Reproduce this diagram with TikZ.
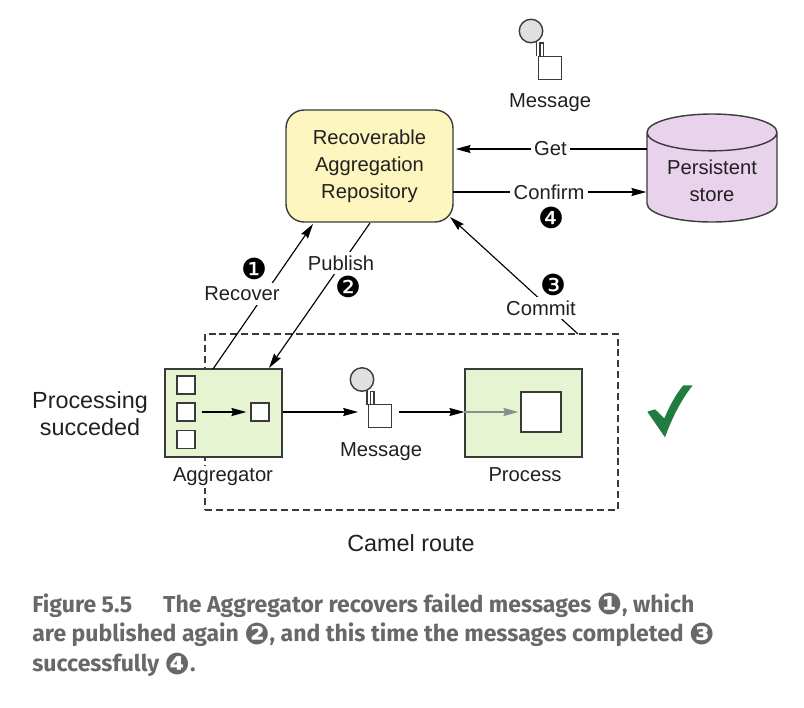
\documentclass[tikz,border=0pt]{standalone}
\usepackage{fontspec}
\setmainfont{Liberation Sans}
\newfontfamily\dingfont{DejaVu Sans}
\newfontfamily\captionfont{Fira Sans}
\usetikzlibrary{arrows.meta,shapes.geometric}
\definecolor{boxgreen}{HTML}{E6F4D2}
\definecolor{boxyellow}{HTML}{FDF7BF}
\definecolor{boxpurple}{HTML}{E8D2EC}
\definecolor{linegray}{HTML}{3A3A3A}
\definecolor{textgray}{HTML}{231F20}
\definecolor{captiongray}{HTML}{66686A}
\definecolor{tickgreen}{HTML}{217C3F}
\newcommand{\capnum}[1]{\smash{\raisebox{-1.3pt}{\dingfont\fontsize{17}{17}\selectfont #1}}}
\tikzset{
  flow/.style={line width=0.65pt,-{Stealth[length=8.5pt,width=4.6pt,inset=1pt]}},
  lab/.style={text=textgray,font=\fontsize{11.5}{15.4}\selectfont,align=center,inner sep=2pt},
  cutlab/.style={lab,fill=white},
  bigtext/.style={text=textgray,font=\fontsize{13.3}{15.4}\selectfont,align=center,inner sep=0pt},
  callout/.style={font=\dingfont\fontsize{16.5}{17}\selectfont,inner sep=0pt},
  greenbox/.style={draw=linegray,line width=0.8pt,fill=boxgreen,minimum width=2.34cm,minimum height=1.76cm},
  tinybox/.style={draw=linegray,line width=0.8pt,fill=white,minimum size=0.36cm},
  msgbox/.style={draw=linegray,line width=0.8pt,fill=white,minimum size=0.45cm},
  msgball/.style={draw=linegray,line width=0.8pt,fill=black!12,circle,minimum size=0.47cm},
  clip line/.style={draw=linegray,line width=0.6pt}
}
\begin{document}
\begin{tikzpicture}[x=0.02cm,y=-0.02cm]
  \useasboundingbox (0,0) rectangle (804,707);

  % camel route outline
  \node[draw=linegray,dash pattern=on 4pt off 2.2pt,line width=0.7pt,minimum width=8.26cm,minimum height=3.52cm] (route) at (411.5,422) {};
  \node[bigtext] (routetext) at (411,543) {Camel route};
  \node[bigtext] (succeeded) at (90,413.5) {Processing\\succeded};

  % repository and store
  \node[draw=linegray,line width=0.8pt,fill=boxyellow,rounded corners=0.36cm,minimum width=3.34cm,minimum height=2.24cm,lab] (repo) at (369.5,166) {Recoverable\\Aggregation\\Repository};
  \node[cylinder,shape border rotate=90,aspect=0.38,draw=linegray,line width=0.8pt,cylinder uses custom fill,cylinder body fill=boxpurple,cylinder end fill=boxpurple,minimum width=2.6cm,minimum height=2.16cm,anchor=shape center,lab] (store) at (712,168) {Persistent\\store};

  % top message
  \draw[clip line] (536.5,56) -- (536.5,35) (540,56) -- (540,43) -- (543.5,43) -- (543.5,56);
  \node[msgball] (topball) at (531,31) {};
  \node[msgbox] (topmsg) at (550,68) {};
  \node[lab] (toptext) at (550,103) {Message};

  % aggregator
  \node[greenbox] (aggregator) at (223.5,413) {};
  \node[lab,fill=white,inner sep=1pt] (aggtext) at (223,477) {Aggregator};
  \node[tinybox] (in1) at (186,385) {};
  \node[tinybox] (in2) at (186,412) {};
  \node[tinybox] (in3) at (186,439.5) {};
  \node[tinybox] (out) at (260,412) {};
  \draw[flow] ([xshift=0.12cm]in2.east) -- ([xshift=-0.08cm]out.west);

  % route message
  \draw[clip line] (367,405) -- (367,385) (370.5,405) -- (370.5,391.5) -- (374,391.5) -- (374,405);
  \node[msgball] (midball) at (362,379.5) {};
  \node[msgbox] (midmsg) at (380,416) {};
  \node[lab] (midtext) at (381,452) {Message};

  % process
  \node[greenbox] (process) at (523.5,413) {};
  \node[draw=linegray,line width=0.8pt,fill=white,minimum size=0.8cm] (inner) at (541,412) {};
  \node[lab] (proctext) at (525,475) {Process};

  % route arrows
  \draw[flow] (aggregator.east |- out) -- ([xshift=-0.2cm]midmsg.west |- out);
  \draw[flow] ([xshift=0.14cm]midmsg.east |- out) -- (process.west |- out);
  \draw[flow,black!45] (process.west |- out) -- ([xshift=-0.04cm]inner.west);

  % ports for the long connectors
  \coordinate (getport) at (647,149);
  \coordinate (confirmport) at (453,192);
  \coordinate (recoverfrom) at (213,369);
  \coordinate (recoverto) at (313,224);
  \coordinate (publishfrom) at (370,223);
  \coordinate (publishto) at (269,368);
  \coordinate (commitfrom) at (578,334);
  \coordinate (committo) at (450,217);

  \draw[flow] (getport) -- ([xshift=0.04cm]getport -| repo.east) node[cutlab,pos=0.505] (gettext) {Get};
  \draw[flow] (confirmport) -- (confirmport -| store.west) node[cutlab,pos=0.497] (confirmtext) {Confirm};
  \draw[flow] (recoverfrom) -- (recoverto);
  \draw[flow] (publishfrom) -- (publishto);
  \draw[flow] (commitfrom) -- (committo);
  \node[cutlab] (recovertext) at (242,294) {Recover};
  \node[cutlab] (publishtext) at (341,263) {Publish};
  \node[cutlab] (committext) at (541,308) {Commit};

  \node[callout] (one) at (254,269) {❶};
  \node[callout] (two) at (348,287) {❷};
  \node[callout] (three) at (553,285) {❸};
  \node[callout] (four) at (551,218) {❹};

  % check mark
  \fill[tickgreen] (647.3,411.7) -- (655,409.3) -- (664.3,418.3) .. controls (670,405) and (676,394) .. (683.3,385.3) -- (692.7,385.3) .. controls (681,400) and (672,418) .. (665,437.3) -- cycle;

  % caption
  \node[anchor=north west,inner sep=0pt,align=left,text=captiongray,font=\captionfont\bfseries\fontsize{13.1}{17}\selectfont] (caption) at (32,593) {Figure 5.5\hspace{1.35em}The Aggregator recovers failed messages \capnum{❶}, which\\are published again \capnum{❷}, and this time the messages completed \capnum{❸}\\successfully \capnum{❹}.};
\end{tikzpicture}
\end{document}
